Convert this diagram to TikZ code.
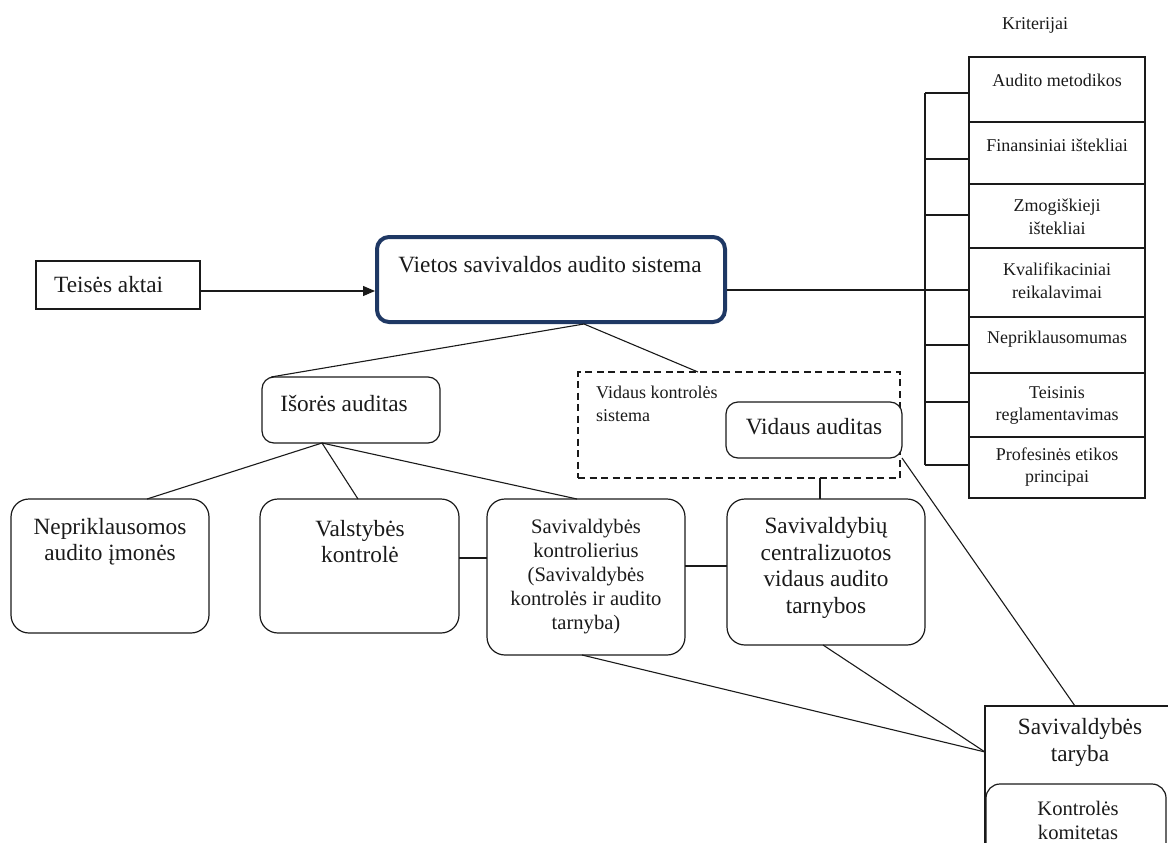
\documentclass[tikz,border=0pt]{standalone}
\usepackage{fontspec}
\setmainfont{Liberation Serif}
\usetikzlibrary{calc,arrows.meta}
\definecolor{navy}{HTML}{1F3864}
\definecolor{ink}{HTML}{1A1A1A}
\begin{document}
\begin{tikzpicture}[x=1pt,y=-1pt,
  conn/.style={line width=1.1pt, draw=ink},
  frame/.style={draw=ink, line width=1.2pt, inner sep=0pt, outer sep=0pt},
  rbox/.style={frame, rounded corners=18pt},
  big/.style={font=\fontsize{23.3}{26.5}\selectfont, align=center, inner sep=0pt, text=ink},
  mid/.style={font=\fontsize{20.6}{24}\selectfont, align=center, inner sep=0pt, text=ink},
  small/.style={font=\fontsize{18}{22.8}\selectfont, align=center, inner sep=0pt, text=ink},
  crit/.style={frame, minimum width=176pt}
]
\useasboundingbox (0,0) rectangle (1168,843);
\clip (0,0) rectangle (1168,843);

% ---- criteria column ----
\node[small] (kritlbl) at (1035,25) {Kriterijai};
\node[crit, minimum height=65pt] (r1) at (1057,89.5) {};
\node[crit, minimum height=62pt] (r2) at (1057,153) {};
\node[crit, minimum height=64pt] (r3) at (1057,216) {};
\node[crit, minimum height=69pt] (r4) at (1057,282.5) {};
\node[crit, minimum height=56pt] (r5) at (1057,345) {};
\node[crit, minimum height=64pt] (r6) at (1057,405) {};
\node[crit, minimum height=61pt] (r7) at (1057,467.5) {};
\node[small] (t1) at (1057,80) {Audito metodikos};
\node[small] (t2) at (1057,145) {Finansiniai ištekliai};
\node[small] (t3) at (1057,216.5) {Zmogiškieji\\ištekliai};
\node[small] (t4) at (1057,281) {Kvalifikaciniai\\reikalavimai};
\node[small] (t5) at (1057,339) {Nepriklausomumas};
\node[small] (t6) at (1057,405.5) {Teisinis\\reglamentavimas};
\node[small] (t7) at (1057,467) {Profesinės etikos\\principai};

% bracket joining the criteria
\coordinate (spinetop) at (925,93);
\coordinate (spinebot) at (925,465);
\draw[conn] (spinetop) -- (spinebot);
\draw[conn] (spinetop) -- (spinetop -| r1.west);
\draw[conn] ($(r2.west)+(0,6)$) -- +(-44,0);
\draw[conn] ($(r3.west)+(0,-1)$) -- +(-44,0);
\draw[conn] (r5.west) -- +(-44,0);
\draw[conn] ($(r6.west)+(0,-3)$) -- +(-44,0);
\draw[conn] (spinebot) -- (spinebot -| r7.west);

% ---- main system box ----
\node[draw=navy, line width=4pt, rounded corners=12pt, minimum width=348pt,
      minimum height=85pt, outer sep=2pt, inner sep=0pt] (main) at (551,279.5) {};
\node[big] (maintext) at (550,265) {Vietos savivaldos audito sistema};

\node[frame, minimum width=164pt, minimum height=48pt] (teis) at (118,285) {};
\node[big, anchor=west] (teistext) at (54,285) {Teisės aktai};

\draw[conn, -{Triangle[length=12pt,width=10pt]}] ($(teis.east)+(0,6)$) -- ($(main.west)+(0,11.5)$);
\draw[conn] ($(main.east)+(0,10.5)$) -- ($(r4.west)+(0,7.5)$);

% ---- external audit ----
\node[rbox, rounded corners=12pt, minimum width=178pt, minimum height=66pt] (isor) at (351,410) {};
\node[big] (isortext) at (344,404) {Išorės auditas};

% ---- internal control system ----
\node[draw=ink, line width=1.2pt, dash pattern=on 7pt off 4.5pt, inner sep=0pt, outer sep=0pt,
      minimum width=322pt, minimum height=106pt] (vks) at (739,425) {};
\node[small, align=left, anchor=west] (vkstext) at (596,403.5) {Vidaus kontrolės\\sistema};
\node[rbox, rounded corners=12pt, fill=white, minimum width=176pt, minimum height=56pt] (vid) at (814,430) {};
\node[big] (vidtext) at (814,427) {Vidaus auditas};

\draw[conn] ($(main.south)+(33,0)$) -- ($(isor.north)+(-80,0)$);
\draw[conn] ($(main.south)+(33,0)$) -- ($(vks.north)+(-41,0)$);

% ---- bottom row ----
\node[rbox, minimum width=198pt, minimum height=134pt] (nep) at (110,566) {};
\node[big] (neptext) at (110,541.5) {Nepriklausomos\\audito įmonės};
\node[rbox, minimum width=199pt, minimum height=134pt] (val) at (359.5,566) {};
\node[big] (valtext) at (360,541.5) {Valstybės\\kontrolė};
\node[rbox, minimum width=198pt, minimum height=156pt] (kontr) at (586,577) {};
\node[mid] (kontrtext) at (586,577) {Savivaldybės\\kontrolierius\\(Savivaldybės\\kontrolės ir audito\\tarnyba)};
\node[rbox, minimum width=198pt, minimum height=146pt] (cvat) at (826,572) {};
\node[big] (cvattext) at (826,568) {Savivaldybių\\centralizuotos\\vidaus audito\\tarnybos};

\draw[conn] ($(isor.south)+(-29,0)$) -- ($(nep.north)+(37,0)$);
\draw[conn] ($(isor.south)+(-29,0)$) -- ($(val.north)+(-1.5,0)$);
\draw[conn] ($(isor.south)+(-29,0)$) -- ($(kontr.north)+(-9,0)$);
\draw[conn] ($(val.east)+(0,-8)$) -- ($(kontr.west)+(0,-19)$);
\draw[conn] ($(kontr.east)+(0,-11)$) -- ($(cvat.west)+(0,-6)$);
\draw[conn] ($(vks.south)+(81,0)$) -- ($(cvat.north)+(-6,0)$);

% ---- municipal council ----
\node[frame, anchor=north west, minimum width=200pt, minimum height=154pt] (tar) at (985,706) {};
\node[big] (tartext) at (1080,742.5) {Savivaldybės\\taryba};
\node[rbox, rounded corners=14pt, fill=white, anchor=north west,
      minimum width=180pt, minimum height=100pt] (kom) at (986,784) {};
\node[mid] (komtext) at (1078,820) {Kontrolės\\komitetas};

\draw[conn] (vid.south east) -- ($(tar.north)+(-10,0)$);
\draw[conn] ($(kontr.south)+(-4,0)$) -- ($(tar.west)+(0,-31)$);
\draw[conn] ($(cvat.south)+(-3,0)$) -- ($(tar.west)+(0,-31)$);
\end{tikzpicture}
\end{document}
